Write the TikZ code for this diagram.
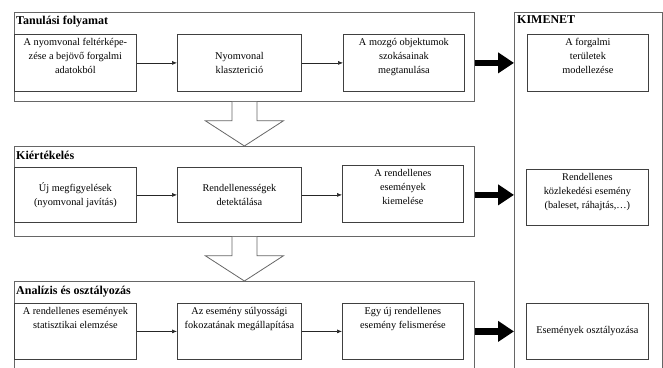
\documentclass[tikz,border=0pt]{standalone}
\usepackage{fontspec}
\setmainfont{Liberation Serif}
\usetikzlibrary{arrows.meta,calc}

% A process box: name, x, y (top-left), width, height, vertical text position (t/c), text
\newcommand\stepnode[7]{%
  \node[stepbox, minimum width=#4pt, minimum height=#5pt] (#1) at (#2,#3)
    {\begin{minipage}[c][\dimexpr#5pt-8pt\relax][#6]{\dimexpr#4pt-4pt\relax}\centering #7\end{minipage}};}

\tikzset{
  frame/.style={draw=black!60, line width=0.8pt, inner sep=0pt, anchor=north west},
  stepbox/.style={draw=black!75, line width=0.8pt, inner xsep=2pt, inner ysep=4pt,
                  anchor=north west, font=\fontsize{10.3}{13.8}\selectfont},
  title/.style={font=\bfseries\fontsize{12}{13}\selectfont, anchor=west, inner sep=0pt},
  flow/.style={-{Latex[length=5pt,width=4pt]}, line width=0.6pt, draw=black!85},
  bigflow/.style={-{Triangle[length=16pt,width=20pt]}, line width=6.5pt},
  hollow/.style={draw=black!60, fill=white, line width=0.8pt, line join=miter},
}

\begin{document}
\begin{tikzpicture}[x=1pt, y=-1pt]
\useasboundingbox (0,0) rectangle (663,367);
\clip (0,0) rectangle (663,367);

% stage frames and the output column
\node[frame, minimum width=460pt, minimum height=89pt]  (s1)  at (14,12) {};
\node[frame, minimum width=460pt, minimum height=90pt]  (s2)  at (14,146) {};
\node[frame, minimum width=460pt, minimum height=130pt] (s3)  at (14,281) {};
\node[frame, minimum width=148pt, minimum height=400pt] (kim) at (514,12) {};

% hollow arrows between the stages
\draw[hollow] ($(s1.south)+(-12.5,0)$) -- ($(s1.south)+(-12.5,19)$) -- ($(s1.south)+(-39,19)$)
  -- (s2.north) -- ($(s1.south)+(39,19)$) -- ($(s1.south)+(12.5,19)$) -- ($(s1.south)+(12.5,0)$);
\draw[hollow] ($(s2.south)+(-12.5,0)$) -- ($(s2.south)+(-12.5,19)$) -- ($(s2.south)+(-39,19)$)
  -- (s3.north) -- ($(s2.south)+(39,19)$) -- ($(s2.south)+(12.5,19)$) -- ($(s2.south)+(12.5,0)$);

% titles
\node[title] (t1) at (16,22)  {Tanulási folyamat};
\node[title] (t2) at (16,155) {Kiértékelés};
\node[title] (t3) at (16,292) {Analízis és osztályozás};
\node[title] (t4) at (517,20) {KIMENET};

% stage 1
\stepnode{a1}{14}{34}{122}{57}{t}{A nyomvonal feltérképe-\\zése a bejövő forgalmi\\adatokból}
\stepnode{a2}{177}{34}{124}{57}{c}{Nyomvonal\\klaszterició}
\stepnode{a3}{343}{34}{121}{57}{t}{A mozgó objektumok\\szokásainak\\megtanulása}

% stage 2
\stepnode{b1}{14}{167}{122}{55}{c}{Új megfigyelések\\(nyomvonal javítás)}
\stepnode{b2}{177}{167}{124}{55}{c}{Rendellenességek\\detektálása}
\stepnode{b3}{342}{165}{121}{57}{t}{A rendellenes\\események\\kiemelése}

% stage 3
\stepnode{c1}{14}{303}{122}{56}{t}{A rendellenes események\\statisztikai elemzése}
\stepnode{c2}{177}{303}{124}{56}{t}{Az esemény súlyossági\\fokozatának megállapítása}
\stepnode{c3}{342}{303}{121}{56}{t}{Egy új rendellenes\\esemény felismerése}

% outputs
\stepnode{o1}{527}{34}{121}{57}{t}{A forgalmi\\területek\\modellezése}
\stepnode{o2}{526}{169}{122}{56}{t}{Rendellenes\\közlekedési esemény\\(baleset, ráhajtás,\dots)}
\stepnode{o3}{526}{303}{122}{56}{c}{Események osztályozása}

% flow inside the stages
\draw[flow] (a1) -- (a2);
\draw[flow] (a2) -- (a3);
\draw[flow] (b1) -- (b2);
\draw[flow] (b2.east) -- (b2.east -| b3.west);
\draw[flow] (c1) -- (c2);
\draw[flow] (c2.east) -- (c2.east -| c3.west);

% stage results to the output column
\draw[bigflow] (s1.east |- a3.east) -- (kim.west |- a3.east);
\draw[bigflow] (s2.east |- b2.east) -- (kim.west |- b2.east);
\draw[bigflow] (s3.east |- c3.east) -- (kim.west |- c3.east);
\end{tikzpicture}
\end{document}
